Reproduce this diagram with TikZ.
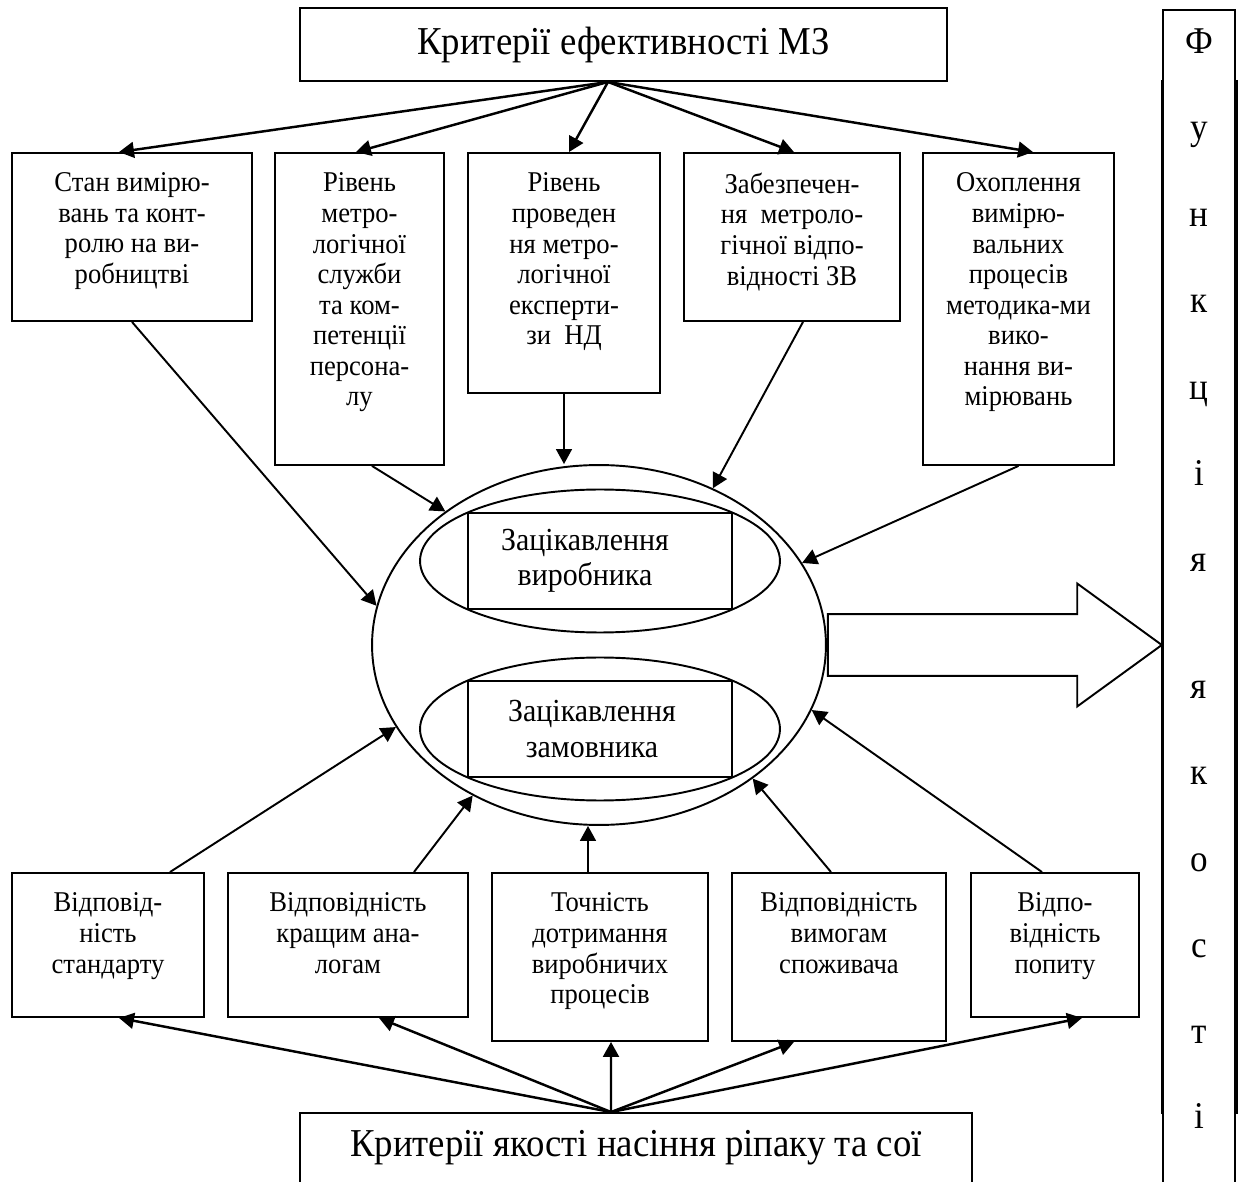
\documentclass[tikz,border=0pt]{standalone}
\usepackage{fontspec}
\setmainfont{Liberation Serif}[FakeStretch=0.93]
\usetikzlibrary{arrows.meta, positioning, shapes.geometric, shapes.arrows}

\tikzset{
  box/.style={draw, line width=1.1pt, inner sep=0pt},
  lbl/.style={align=center, inner sep=0pt, font=\fontsize{16.3}{17.4}\selectfont},
  big/.style={align=center, inner sep=0pt, font=\fontsize{18.3}{20}\selectfont},
  head/.style={draw, line width=1.1pt, inner sep=0pt, font=\fontsize{22.5}{25}\selectfont},
  oval/.style={draw, ellipse, line width=1.1pt, inner sep=0pt},
  fch/.style={inner sep=0pt, anchor=base, font=\fontsize{21.5}{22}\selectfont},
  arr/.style={-{Triangle[width=9pt,length=8.5pt]}, line width=1.1pt},
  farr/.style={arr, line width=1.4pt},
}

\begin{document}
\begin{tikzpicture}[x=0.02cm, y=-0.02cm]
  \useasboundingbox (0,0) rectangle (1242,1182);
  \clip (0,0) rectangle (1242,1182);

  % titles
  \node[head, minimum width=12.94cm, minimum height=1.46cm] (mz) at (623.5,44.5) {Критерії ефективності МЗ};
  \node[head, minimum width=13.44cm, minimum height=1.4cm] (kr) at (636,1148) {Критерії якості насіння ріпаку та сої};

  % upper row
  \foreach \nm/\cx/\cy/\bw/\bh/\txt in {
    s1/132/237/4.8/3.36/{Стан вимірю-\\вань та конт-\\ролю на ви-\\робництві},
    s2/359.5/309/3.38/6.24/{Рівень\\метро-\\логічної\\служби\\та ком-\\петенції\\персона-\\лу},
    s3/564/273/3.84/4.8/{Рівень\\проведен\\ня метро-\\логічної\\експерти-\\зи~ НД},
    s4/792/237/4.32/3.36/{Забезпечен-\\ня~ метроло-\\гічної відпо-\\відності ЗВ},
    s5/1018.5/309/3.82/6.24/{Охоплення\\вимірю-\\вальних\\процесів\\методика-ми\\вико-\\нання ви-\\мірювань}}{
    \node[box, minimum width=\bw cm, minimum height=\bh cm] (\nm) at (\cx,\cy) {};
    \node[lbl, below=0.41cm of \nm.north] (\nm-t) {\txt};
  }

  % lower row
  \foreach \nm/\cx/\cy/\bw/\bh/\txt in {
    b1/108/945/3.84/2.88/{Відповід-\\ність\\стандарту},
    b2/348/945/4.8/2.88/{Відповідність\\кращим ана-\\логам},
    b3/600/957/4.32/3.36/{Точність\\дотримання\\виробничих\\процесів},
    b4/839/957/4.28/3.36/{Відповідність\\вимогам\\споживача},
    b5/1055/945/3.36/2.88/{Відпо-\\відність\\попиту}}{
    \node[box, minimum width=\bw cm, minimum height=\bh cm] (\nm) at (\cx,\cy) {};
    \node[lbl, below=0.41cm of \nm.north] (\nm-t) {\txt};
  }

  % centre
  \node[oval, minimum width=9.08cm, minimum height=7.2cm] (ell) at (599,645) {};
  \node[oval, minimum width=7.2cm, minimum height=2.86cm] (e1) at (600,561) {};
  \node[oval, minimum width=7.2cm, minimum height=2.86cm] (e2) at (600,729) {};
  \node[box, minimum width=5.28cm, minimum height=1.92cm] (r1) at (600,561) {};
  \node[box, minimum width=5.28cm, minimum height=1.92cm] (r2) at (600,729) {};
  \node[big] (r1-t) at ([xshift=-0.3cm]r1.center) {Зацікавлення\\виробника};
  \node[big] (r2-t) at ([xshift=-0.16cm]r2.center) {Зацікавлення\\замовника};

  % right column
  \node[box, anchor=north, minimum width=1.44cm, minimum height=24cm] (fn) at (1199,9) {};
  \draw[line width=0.9pt] (1162,80) -- (1162,1114) (1237,80) -- (1237,1114);
  \foreach \y/\c [count=\i] in {54/Ф,140/у,227/н,313/к,400/ц,486/і,572/я,699/я,785/к,871/о,957/с,1043/т,1128/і}{
    \node[fch] (ch\i) at (1199,\y) {\c};
  }
  \node[single arrow, draw, line width=1.1pt, minimum height=6.68cm, single arrow head extend=0.61cm,
    single arrow tip angle=72, inner xsep=0pt, inner ysep=0.6cm, anchor=tail] (out) at (ell.east) {};

  % arrows from the top title
  \coordinate (mzs) at ([xshift=-0.31cm]mz.south);
  \draw[farr] (mzs) -- ([xshift=-0.26cm]s1.north);
  \draw[farr] (mzs) -- ([xshift=-0.07cm]s2.north);
  \draw[farr] (mzs) -- ([xshift=0.1cm]s3.north);
  \draw[farr] (mzs) -- ([xshift=0.04cm]s4.north);
  \draw[farr] (mzs) -- ([xshift=0.29cm]s5.north);

  % upper row into the ellipse
  \draw[arr] (s1.south) -- (ell.170.5);
  \draw[arr] ([xshift=0.25cm]s2.south) -- (ell.139.5);
  \draw[arr] (s3.south) -- (s3.south |- ell.north);
  \draw[arr] ([xshift=0.22cm]s4.south) -- (ell.54.7);
  \draw[arr] (s5.south) -- (ell.22.3);

  % lower row into the ellipse
  \draw[arr] ([xshift=1.24cm]b1.north) -- (ell.202.6);
  \draw[arr] ([xshift=1.32cm]b2.north) -- (ell.230.3);
  \draw[arr] ([xshift=-0.24cm]b3.north) -- ([xshift=-0.24cm]b3.north |- ell.south);
  \draw[arr] ([xshift=-0.16cm]b4.north) -- (ell.319.7);
  \draw[arr] ([xshift=-0.26cm]b5.north) -- (ell.343.5);

  % arrows from the bottom title
  \coordinate (krs) at ([xshift=-0.5cm]kr.north);
  \draw[farr] (krs) -- ([xshift=0.22cm]b1.south);
  \draw[farr] (krs) -- ([xshift=0.62cm]b2.south);
  \draw[farr] (krs) -- ([xshift=0.22cm]b3.south);
  \draw[farr] (krs) -- ([xshift=-0.9cm]b4.south);
  \draw[farr] (krs) -- ([xshift=0.54cm]b5.south);
\end{tikzpicture}
\end{document}
